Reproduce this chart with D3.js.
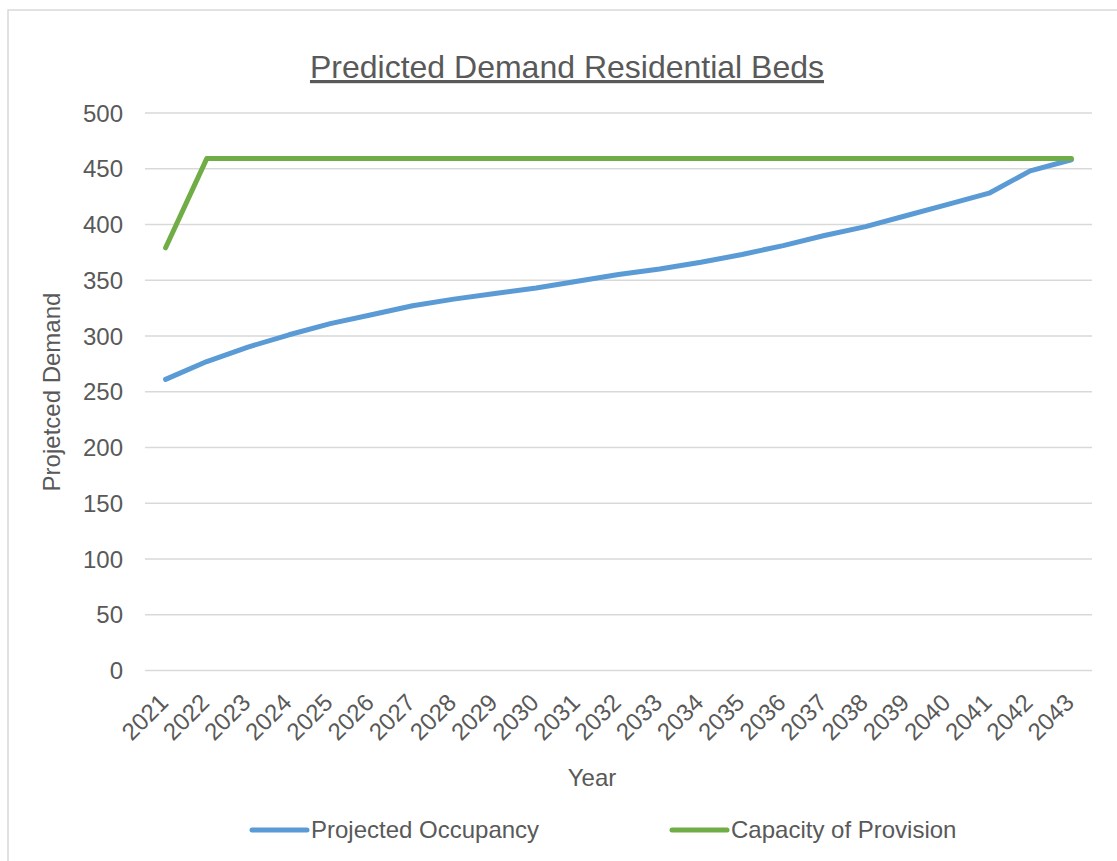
<!DOCTYPE html>
<html>
<head>
<meta charset="utf-8">
<script src="https://cdn.jsdelivr.net/npm/d3@7"></script>
<style>
  html, body { margin: 0; padding: 0; background: #ffffff; }
  svg { display: block; font-family: "Liberation Sans", Arial, sans-serif; }
</style>
</head>
<body>
<svg id="chart" width="1117" height="861"></svg>
<script>
// Years on the category axis
const years = ["2021","2022","2023","2024","2025","2026","2027","2028","2029","2030","2031","2032",
               "2033","2034","2035","2036","2037","2038","2039","2040","2041","2042","2043"];

// Projected occupancy (beds)
const occupancy = [261, 277, 290, 301, 311, 319, 327, 333, 338, 343, 349, 355,
                   360, 366, 373, 381, 390, 398, 408, 418, 428, 448, 458];

// Capacity of provision (beds)
const capacity = [379, 459, 459, 459, 459, 459, 459, 459, 459, 459, 459, 459,
                  459, 459, 459, 459, 459, 459, 459, 459, 459, 459, 459];

// Value axis ticks
const yTicks = [0, 50, 100, 150, 200, 250, 300, 350, 400, 450, 500];

const seriesNames = ["Projected Occupancy", "Capacity of Provision"];
const seriesColors = ["#5b9bd5", "#70ad47"];

const textColor = "#595959";
const gridColor = "#d9d9d9";

const svg = d3.select("#chart");

// Chart frame
svg.append("rect")
  .attr("x", 8).attr("y", 10)
  .attr("width", 1200).attr("height", 1000)
  .attr("fill", "none")
  .attr("stroke", gridColor)
  .attr("stroke-width", 1.5);

const plot = { left: 145, right: 1092, top: 112.9, bottom: 670.4 };

const x = d3.scalePoint()
  .domain(years)
  .range([plot.left, plot.right])
  .padding(0.5);

const y = d3.scaleLinear()
  .domain([0, 500])
  .range([plot.bottom, plot.top]);

// Horizontal gridlines
svg.append("g")
  .selectAll("line")
  .data(yTicks)
  .join("line")
  .attr("x1", plot.left).attr("x2", plot.right)
  .attr("y1", d => y(d)).attr("y2", d => y(d))
  .attr("stroke", gridColor)
  .attr("stroke-width", 1.5);

// Value axis labels
svg.append("g")
  .selectAll("text")
  .data(yTicks)
  .join("text")
  .attr("x", 123)
  .attr("y", d => y(d))
  .attr("dy", "0.36em")
  .attr("text-anchor", "end")
  .attr("font-size", 24)
  .attr("fill", textColor)
  .text(d => d);

// Category axis labels, rotated
svg.append("g")
  .selectAll("text")
  .data(years)
  .join("text")
  .attr("transform", d => `translate(${x(d) + 4},${704}) rotate(-45)`)
  .attr("text-anchor", "end")
  .attr("font-size", 24)
  .attr("fill", textColor)
  .text(d => d);

// Lines
const line = d3.line()
  .x((d, i) => x(years[i]))
  .y(d => y(d));

[occupancy, capacity].forEach((vals, k) => {
  svg.append("path")
    .datum(vals)
    .attr("d", line)
    .attr("fill", "none")
    .attr("stroke", seriesColors[k])
    .attr("stroke-width", 5)
    .attr("stroke-linejoin", "round")
    .attr("stroke-linecap", "round");
});

// Title
svg.append("text")
  .attr("x", 567)
  .attr("y", 78)
  .attr("text-anchor", "middle")
  .attr("font-size", 32)
  .attr("fill", textColor)
  .style("text-decoration", "underline")
  .text("Predicted Demand Residential Beds");

// Axis titles
svg.append("text")
  .attr("x", 592)
  .attr("y", 786)
  .attr("text-anchor", "middle")
  .attr("font-size", 24)
  .attr("fill", textColor)
  .text("Year");

svg.append("text")
  .attr("transform", "translate(60,392) rotate(-90)")
  .attr("text-anchor", "middle")
  .attr("font-size", 24)
  .attr("fill", textColor)
  .text("Projetced Demand");

// Legend
const legendX = [252, 672];
const legend = svg.append("g")
  .selectAll("g")
  .data(seriesNames)
  .join("g")
  .attr("transform", (d, i) => `translate(${legendX[i]},830)`);

legend.append("line")
  .attr("x1", 0).attr("x2", 55)
  .attr("y1", 0).attr("y2", 0)
  .attr("stroke", (d, i) => seriesColors[i])
  .attr("stroke-width", 5)
  .attr("stroke-linecap", "round");

legend.append("text")
  .attr("x", 59)
  .attr("y", 8)
  .attr("font-size", 24)
  .attr("fill", textColor)
  .text(d => d);
</script>
</body>
</html>
